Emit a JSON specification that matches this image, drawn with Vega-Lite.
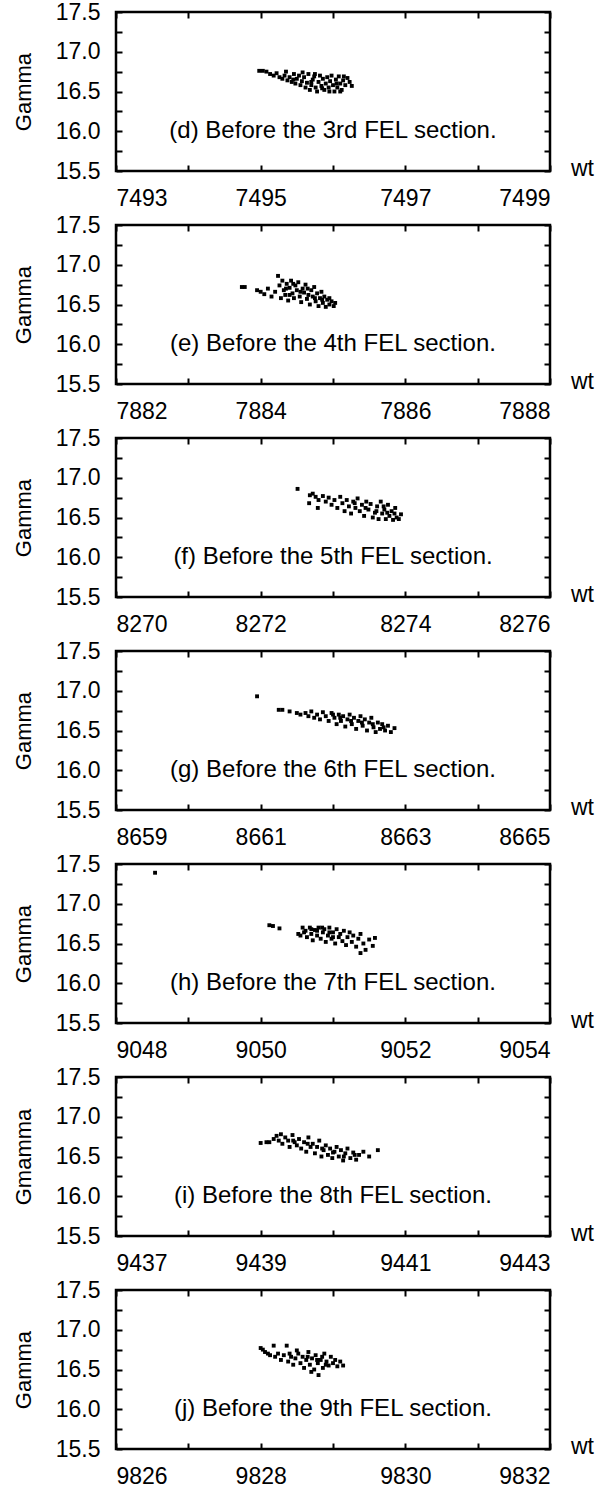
{
"$schema": "https://vega.github.io/schema/vega-lite/v6.json",
"background": "white",
"padding": {"left": 10, "top": -1, "right": 5, "bottom": 0},
"spacing": 0,
"config": {
  "view": {"stroke": "black", "strokeWidth": 2.5},
  "axis": {"domain": false, "grid": false, "tickColor": "black", "tickWidth": 2, "tickSize": -6,
    "labelFont": "Liberation Sans", "labelFontSize": 23, "labelColor": "black",
    "titleFont": "Liberation Sans", "titleFontSize": 22, "titleFontWeight": "normal", "titleColor": "black"},
  "text": {"font": "Liberation Sans", "fontSize": 24, "color": "black"}
},
"datasets": {
  "notes": [
    {"p": "d", "wt": 7496, "gamma": 16.0, "label": "(d) Before the 3rd FEL section."},
    {"p": "e", "wt": 7885, "gamma": 16.0, "label": "(e) Before the 4th FEL section."},
    {"p": "f", "wt": 8273, "gamma": 16.0, "label": "(f) Before the 5th FEL section."},
    {"p": "g", "wt": 8662, "gamma": 16.0, "label": "(g) Before the 6th FEL section."},
    {"p": "h", "wt": 9051, "gamma": 16.0, "label": "(h) Before the 7th FEL section."},
    {"p": "i", "wt": 9440, "gamma": 16.0, "label": "(i) Before the 8th FEL section."},
    {"p": "j", "wt": 9829, "gamma": 16.0, "label": "(j) Before the 9th FEL section."}
  ],
  "d": [
    {"wt":7494.98,"gamma":16.76},{"wt":7495.03,"gamma":16.76},{"wt":7495.08,"gamma":16.75},{"wt":7495.13,"gamma":16.72},{"wt":7495.18,"gamma":16.70},{"wt":7495.22,"gamma":16.73},{"wt":7495.26,"gamma":16.68},{"wt":7495.30,"gamma":16.66},{"wt":7495.33,"gamma":16.70},{"wt":7495.37,"gamma":16.64},{"wt":7495.40,"gamma":16.68},{"wt":7495.43,"gamma":16.62},{"wt":7495.46,"gamma":16.72},{"wt":7495.48,"gamma":16.60},{"wt":7495.50,"gamma":16.66},{"wt":7495.53,"gamma":16.70},{"wt":7495.55,"gamma":16.58},{"wt":7495.57,"gamma":16.63},{"wt":7495.60,"gamma":16.68},{"wt":7495.62,"gamma":16.55},{"wt":7495.64,"gamma":16.61},{"wt":7495.66,"gamma":16.72},{"wt":7495.68,"gamma":16.52},{"wt":7495.70,"gamma":16.58},{"wt":7495.72,"gamma":16.65},{"wt":7495.74,"gamma":16.69},{"wt":7495.76,"gamma":16.55},{"wt":7495.78,"gamma":16.50},{"wt":7495.80,"gamma":16.62},{"wt":7495.82,"gamma":16.70},{"wt":7495.84,"gamma":16.57},{"wt":7495.86,"gamma":16.66},{"wt":7495.88,"gamma":16.52},{"wt":7495.90,"gamma":16.60},{"wt":7495.92,"gamma":16.68},{"wt":7495.94,"gamma":16.55},{"wt":7495.96,"gamma":16.63},{"wt":7495.98,"gamma":16.70},{"wt":7496.00,"gamma":16.58},{"wt":7496.02,"gamma":16.50},{"wt":7496.04,"gamma":16.65},{"wt":7496.06,"gamma":16.55},{"wt":7496.08,"gamma":16.69},{"wt":7496.10,"gamma":16.60},{"wt":7496.12,"gamma":16.52},{"wt":7496.14,"gamma":16.64},{"wt":7496.17,"gamma":16.58},{"wt":7496.20,"gamma":16.67},{"wt":7496.23,"gamma":16.62},{"wt":7496.26,"gamma":16.57},
    {"wt":7495.35,"gamma":16.75},{"wt":7495.58,"gamma":16.74},{"wt":7495.70,"gamma":16.62},{"wt":7495.85,"gamma":16.54},{"wt":7495.95,"gamma":16.50},{"wt":7496.05,"gamma":16.60},{"wt":7496.15,"gamma":16.69},{"wt":7495.75,"gamma":16.72},{"wt":7495.45,"gamma":16.65},{"wt":7496.10,"gamma":16.50}
  ],
  "e": [
    {"wt":7883.74,"gamma":16.72},{"wt":7883.78,"gamma":16.72},{"wt":7883.95,"gamma":16.68},{"wt":7884.00,"gamma":16.66},{"wt":7884.05,"gamma":16.63},{"wt":7884.10,"gamma":16.70},{"wt":7884.15,"gamma":16.60},{"wt":7884.20,"gamma":16.66},{"wt":7884.24,"gamma":16.86},{"wt":7884.26,"gamma":16.74},{"wt":7884.28,"gamma":16.58},{"wt":7884.30,"gamma":16.80},{"wt":7884.32,"gamma":16.68},{"wt":7884.34,"gamma":16.62},{"wt":7884.36,"gamma":16.76},{"wt":7884.38,"gamma":16.55},{"wt":7884.40,"gamma":16.71},{"wt":7884.42,"gamma":16.80},{"wt":7884.44,"gamma":16.64},{"wt":7884.46,"gamma":16.58},{"wt":7884.48,"gamma":16.74},{"wt":7884.50,"gamma":16.68},{"wt":7884.52,"gamma":16.78},{"wt":7884.54,"gamma":16.60},{"wt":7884.56,"gamma":16.53},{"wt":7884.58,"gamma":16.70},{"wt":7884.60,"gamma":16.65},{"wt":7884.62,"gamma":16.75},{"wt":7884.64,"gamma":16.57},{"wt":7884.66,"gamma":16.62},{"wt":7884.68,"gamma":16.50},{"wt":7884.70,"gamma":16.68},{"wt":7884.72,"gamma":16.60},{"wt":7884.74,"gamma":16.72},{"wt":7884.76,"gamma":16.54},{"wt":7884.78,"gamma":16.64},{"wt":7884.80,"gamma":16.48},{"wt":7884.82,"gamma":16.58},{"wt":7884.84,"gamma":16.66},{"wt":7884.86,"gamma":16.52},{"wt":7884.88,"gamma":16.60},{"wt":7884.90,"gamma":16.47},{"wt":7884.92,"gamma":16.56},{"wt":7884.95,"gamma":16.50},{"wt":7884.98,"gamma":16.54},{"wt":7885.01,"gamma":16.48},{"wt":7885.03,"gamma":16.52},
    {"wt":7884.35,"gamma":16.70},{"wt":7884.45,"gamma":16.76},{"wt":7884.55,"gamma":16.66},{"wt":7884.65,"gamma":16.70},{"wt":7884.75,"gamma":16.58},{"wt":7884.85,"gamma":16.56},{"wt":7884.95,"gamma":16.58},{"wt":7884.40,"gamma":16.62}
  ],
  "f": [
    {"wt":8272.51,"gamma":16.86},{"wt":8272.68,"gamma":16.78},{"wt":8272.72,"gamma":16.80},{"wt":8272.76,"gamma":16.76},{"wt":8272.67,"gamma":16.68},{"wt":8272.80,"gamma":16.72},{"wt":8272.79,"gamma":16.62},{"wt":8272.86,"gamma":16.77},{"wt":8272.90,"gamma":16.70},{"wt":8272.94,"gamma":16.75},{"wt":8272.98,"gamma":16.66},{"wt":8273.02,"gamma":16.72},{"wt":8273.06,"gamma":16.62},{"wt":8273.10,"gamma":16.76},{"wt":8273.13,"gamma":16.68},{"wt":8273.16,"gamma":16.58},{"wt":8273.19,"gamma":16.72},{"wt":8273.22,"gamma":16.64},{"wt":8273.25,"gamma":16.55},{"wt":8273.28,"gamma":16.70},{"wt":8273.31,"gamma":16.62},{"wt":8273.34,"gamma":16.74},{"wt":8273.37,"gamma":16.58},{"wt":8273.40,"gamma":16.66},{"wt":8273.43,"gamma":16.52},{"wt":8273.46,"gamma":16.70},{"wt":8273.49,"gamma":16.60},{"wt":8273.52,"gamma":16.67},{"wt":8273.55,"gamma":16.50},{"wt":8273.58,"gamma":16.56},{"wt":8273.61,"gamma":16.64},{"wt":8273.63,"gamma":16.48},{"wt":8273.66,"gamma":16.70},{"wt":8273.68,"gamma":16.55},{"wt":8273.71,"gamma":16.60},{"wt":8273.73,"gamma":16.48},{"wt":8273.76,"gamma":16.66},{"wt":8273.78,"gamma":16.52},{"wt":8273.81,"gamma":16.58},{"wt":8273.83,"gamma":16.47},{"wt":8273.86,"gamma":16.62},{"wt":8273.88,"gamma":16.50},{"wt":8273.91,"gamma":16.48},{"wt":8273.94,"gamma":16.54},
    {"wt":8273.30,"gamma":16.68},{"wt":8273.45,"gamma":16.62},{"wt":8273.60,"gamma":16.58},{"wt":8273.75,"gamma":16.56},{"wt":8273.85,"gamma":16.55},{"wt":8273.70,"gamma":16.64}
  ],
  "g": [
    {"wt":8660.95,"gamma":16.93},{"wt":8661.25,"gamma":16.76},{"wt":8661.30,"gamma":16.76},{"wt":8661.40,"gamma":16.74},{"wt":8661.50,"gamma":16.72},{"wt":8661.55,"gamma":16.70},{"wt":8661.62,"gamma":16.72},{"wt":8661.66,"gamma":16.68},{"wt":8661.70,"gamma":16.74},{"wt":8661.74,"gamma":16.66},{"wt":8661.78,"gamma":16.70},{"wt":8661.82,"gamma":16.64},{"wt":8661.86,"gamma":16.73},{"wt":8661.90,"gamma":16.68},{"wt":8661.94,"gamma":16.62},{"wt":8661.98,"gamma":16.72},{"wt":8662.02,"gamma":16.66},{"wt":8662.05,"gamma":16.58},{"wt":8662.08,"gamma":16.70},{"wt":8662.11,"gamma":16.62},{"wt":8662.14,"gamma":16.68},{"wt":8662.17,"gamma":16.55},{"wt":8662.20,"gamma":16.64},{"wt":8662.23,"gamma":16.70},{"wt":8662.26,"gamma":16.58},{"wt":8662.29,"gamma":16.66},{"wt":8662.32,"gamma":16.52},{"wt":8662.35,"gamma":16.62},{"wt":8662.38,"gamma":16.68},{"wt":8662.41,"gamma":16.56},{"wt":8662.44,"gamma":16.64},{"wt":8662.47,"gamma":16.50},{"wt":8662.50,"gamma":16.60},{"wt":8662.53,"gamma":16.66},{"wt":8662.56,"gamma":16.54},{"wt":8662.59,"gamma":16.48},{"wt":8662.62,"gamma":16.60},{"wt":8662.65,"gamma":16.52},{"wt":8662.68,"gamma":16.58},{"wt":8662.72,"gamma":16.50},{"wt":8662.76,"gamma":16.56},{"wt":8662.80,"gamma":16.48},{"wt":8662.85,"gamma":16.53},
    {"wt":8662.10,"gamma":16.66},{"wt":8662.25,"gamma":16.62},{"wt":8662.40,"gamma":16.60},{"wt":8662.55,"gamma":16.58},{"wt":8662.70,"gamma":16.54},{"wt":8662.00,"gamma":16.70}
  ],
  "h": [
    {"wt":9048.54,"gamma":17.39},{"wt":9050.12,"gamma":16.73},{"wt":9050.17,"gamma":16.72},{"wt":9050.26,"gamma":16.69},{"wt":9050.52,"gamma":16.62},{"wt":9050.55,"gamma":16.60},{"wt":9050.58,"gamma":16.70},{"wt":9050.62,"gamma":16.66},{"wt":9050.64,"gamma":16.58},{"wt":9050.68,"gamma":16.70},{"wt":9050.70,"gamma":16.62},{"wt":9050.72,"gamma":16.54},{"wt":9050.75,"gamma":16.67},{"wt":9050.78,"gamma":16.60},{"wt":9050.80,"gamma":16.70},{"wt":9050.83,"gamma":16.56},{"wt":9050.86,"gamma":16.64},{"wt":9050.88,"gamma":16.68},{"wt":9050.90,"gamma":16.52},{"wt":9050.93,"gamma":16.60},{"wt":9050.95,"gamma":16.70},{"wt":9050.98,"gamma":16.56},{"wt":9051.00,"gamma":16.64},{"wt":9051.03,"gamma":16.50},{"wt":9051.05,"gamma":16.68},{"wt":9051.08,"gamma":16.58},{"wt":9051.10,"gamma":16.62},{"wt":9051.13,"gamma":16.53},{"wt":9051.15,"gamma":16.66},{"wt":9051.18,"gamma":16.48},{"wt":9051.20,"gamma":16.58},{"wt":9051.23,"gamma":16.64},{"wt":9051.26,"gamma":16.52},{"wt":9051.28,"gamma":16.60},{"wt":9051.32,"gamma":16.46},{"wt":9051.35,"gamma":16.56},{"wt":9051.38,"gamma":16.62},{"wt":9051.42,"gamma":16.50},{"wt":9051.45,"gamma":16.42},{"wt":9051.50,"gamma":16.55},{"wt":9051.55,"gamma":16.47},{"wt":9051.38,"gamma":16.38},{"wt":9051.58,"gamma":16.57},
    {"wt":9050.70,"gamma":16.68},{"wt":9050.85,"gamma":16.70},{"wt":9051.00,"gamma":16.58},{"wt":9050.95,"gamma":16.64},{"wt":9050.60,"gamma":16.64},{"wt":9050.78,"gamma":16.66}
  ],
  "i": [
    {"wt":9439.00,"gamma":16.67},{"wt":9439.08,"gamma":16.68},{"wt":9439.12,"gamma":16.68},{"wt":9439.18,"gamma":16.72},{"wt":9439.22,"gamma":16.76},{"wt":9439.25,"gamma":16.70},{"wt":9439.28,"gamma":16.78},{"wt":9439.30,"gamma":16.66},{"wt":9439.34,"gamma":16.74},{"wt":9439.38,"gamma":16.70},{"wt":9439.40,"gamma":16.62},{"wt":9439.44,"gamma":16.77},{"wt":9439.47,"gamma":16.68},{"wt":9439.50,"gamma":16.64},{"wt":9439.53,"gamma":16.72},{"wt":9439.56,"gamma":16.60},{"wt":9439.60,"gamma":16.68},{"wt":9439.63,"gamma":16.56},{"wt":9439.66,"gamma":16.74},{"wt":9439.69,"gamma":16.62},{"wt":9439.72,"gamma":16.66},{"wt":9439.75,"gamma":16.54},{"wt":9439.78,"gamma":16.62},{"wt":9439.81,"gamma":16.70},{"wt":9439.84,"gamma":16.50},{"wt":9439.87,"gamma":16.58},{"wt":9439.90,"gamma":16.64},{"wt":9439.93,"gamma":16.52},{"wt":9439.96,"gamma":16.60},{"wt":9439.99,"gamma":16.48},{"wt":9440.02,"gamma":16.56},{"wt":9440.05,"gamma":16.62},{"wt":9440.08,"gamma":16.50},{"wt":9440.11,"gamma":16.58},{"wt":9440.14,"gamma":16.45},{"wt":9440.17,"gamma":16.54},{"wt":9440.20,"gamma":16.60},{"wt":9440.24,"gamma":16.48},{"wt":9440.28,"gamma":16.55},{"wt":9440.32,"gamma":16.46},{"wt":9440.36,"gamma":16.52},{"wt":9440.42,"gamma":16.56},{"wt":9440.50,"gamma":16.50},{"wt":9440.62,"gamma":16.58},
    {"wt":9439.45,"gamma":16.70},{"wt":9439.65,"gamma":16.66},{"wt":9439.85,"gamma":16.60},{"wt":9440.00,"gamma":16.55},{"wt":9440.15,"gamma":16.50},{"wt":9440.30,"gamma":16.52}
  ],
  "j": [
    {"wt":9828.00,"gamma":16.77},{"wt":9828.03,"gamma":16.75},{"wt":9828.06,"gamma":16.72},{"wt":9828.10,"gamma":16.70},{"wt":9828.13,"gamma":16.68},{"wt":9828.18,"gamma":16.80},{"wt":9828.20,"gamma":16.66},{"wt":9828.24,"gamma":16.70},{"wt":9828.28,"gamma":16.62},{"wt":9828.32,"gamma":16.68},{"wt":9828.36,"gamma":16.80},{"wt":9828.38,"gamma":16.60},{"wt":9828.42,"gamma":16.66},{"wt":9828.45,"gamma":16.56},{"wt":9828.48,"gamma":16.64},{"wt":9828.52,"gamma":16.70},{"wt":9828.55,"gamma":16.58},{"wt":9828.58,"gamma":16.66},{"wt":9828.60,"gamma":16.52},{"wt":9828.63,"gamma":16.62},{"wt":9828.66,"gamma":16.72},{"wt":9828.68,"gamma":16.56},{"wt":9828.71,"gamma":16.64},{"wt":9828.74,"gamma":16.50},{"wt":9828.76,"gamma":16.68},{"wt":9828.79,"gamma":16.58},{"wt":9828.80,"gamma":16.43},{"wt":9828.83,"gamma":16.62},{"wt":9828.86,"gamma":16.52},{"wt":9828.88,"gamma":16.70},{"wt":9828.91,"gamma":16.60},{"wt":9828.94,"gamma":16.55},{"wt":9828.97,"gamma":16.66},{"wt":9829.00,"gamma":16.58},{"wt":9829.03,"gamma":16.62},{"wt":9829.06,"gamma":16.54},{"wt":9829.10,"gamma":16.60},{"wt":9829.14,"gamma":16.55},{"wt":9828.70,"gamma":16.47},{"wt":9828.50,"gamma":16.74},
    {"wt":9828.65,"gamma":16.66},{"wt":9828.78,"gamma":16.62},{"wt":9828.90,"gamma":16.56},{"wt":9828.85,"gamma":16.66},{"wt":9828.40,"gamma":16.70}
  ]
},
"vconcat": [
  {"width": 434, "height": 159, "resolve": {"axis": {"x": "independent", "y": "independent"}},
   "layer": [
    {"data": {"name": "d"}, "mark": {"type": "square", "size": 15, "color": "black", "opacity": 1},
     "encoding": {
      "x": {"field": "wt", "type": "quantitative", "scale": {"domain": [7493, 7499], "nice": false, "zero": false},
        "axis": {"orient": "bottom", "values": [7493,7494,7495,7496,7497,7498,7499], "format": "d", "labelExpr": "(datum.value - 7493) % 2 == 0 ? datum.label : ''", "labelPadding": 22, "title": "wt", "titleX": 466, "titleY": -3, "titleAlign": "center", "titleBaseline": "middle", "titleAnchor": null, "titleFontSize": 23}},
      "y": {"field": "gamma", "type": "quantitative", "scale": {"domain": [15.5, 17.5], "nice": false, "zero": false},
        "axis": {"orient": "left", "values": [15.5,15.75,16,16.25,16.5,16.75,17,17.25,17.5], "format": ".1f", "labelExpr": "abs(datum.value*2 - round(datum.value*2)) < 0.01 ? datum.label : ''", "labelPadding": 22, "title": "Gamma", "titlePadding": 20}}}},
    {"data": {"name": "notes"}, "transform": [{"filter": "datum.p == 'd'"}], "mark": {"type": "text"},
     "encoding": {
      "x": {"field": "wt", "type": "quantitative", "axis": {"orient": "top", "values": [7493,7494,7495,7496,7497,7498,7499], "labels": false, "title": null}},
      "y": {"field": "gamma", "type": "quantitative", "axis": {"orient": "right", "values": [15.5,15.75,16,16.25,16.5,16.75,17,17.25,17.5], "labels": false, "title": null}},
      "text": {"field": "label"}}}
   ]},
  {"width": 434, "height": 159, "resolve": {"axis": {"x": "independent", "y": "independent"}},
   "layer": [
    {"data": {"name": "e"}, "mark": {"type": "square", "size": 15, "color": "black", "opacity": 1},
     "encoding": {
      "x": {"field": "wt", "type": "quantitative", "scale": {"domain": [7882, 7888], "nice": false, "zero": false},
        "axis": {"orient": "bottom", "values": [7882,7883,7884,7885,7886,7887,7888], "format": "d", "labelExpr": "(datum.value - 7882) % 2 == 0 ? datum.label : ''", "labelPadding": 22, "title": "wt", "titleX": 466, "titleY": -3, "titleAlign": "center", "titleBaseline": "middle", "titleAnchor": null, "titleFontSize": 23}},
      "y": {"field": "gamma", "type": "quantitative", "scale": {"domain": [15.5, 17.5], "nice": false, "zero": false},
        "axis": {"orient": "left", "values": [15.5,15.75,16,16.25,16.5,16.75,17,17.25,17.5], "format": ".1f", "labelExpr": "abs(datum.value*2 - round(datum.value*2)) < 0.01 ? datum.label : ''", "labelPadding": 22, "title": "Gamma", "titlePadding": 20}}}},
    {"data": {"name": "notes"}, "transform": [{"filter": "datum.p == 'e'"}], "mark": {"type": "text"},
     "encoding": {
      "x": {"field": "wt", "type": "quantitative", "axis": {"orient": "top", "values": [7882,7883,7884,7885,7886,7887,7888], "labels": false, "title": null}},
      "y": {"field": "gamma", "type": "quantitative", "axis": {"orient": "right", "values": [15.5,15.75,16,16.25,16.5,16.75,17,17.25,17.5], "labels": false, "title": null}},
      "text": {"field": "label"}}}
   ]},
  {"width": 434, "height": 159, "resolve": {"axis": {"x": "independent", "y": "independent"}},
   "layer": [
    {"data": {"name": "f"}, "mark": {"type": "square", "size": 15, "color": "black", "opacity": 1},
     "encoding": {
      "x": {"field": "wt", "type": "quantitative", "scale": {"domain": [8270, 8276], "nice": false, "zero": false},
        "axis": {"orient": "bottom", "values": [8270,8271,8272,8273,8274,8275,8276], "format": "d", "labelExpr": "(datum.value - 8270) % 2 == 0 ? datum.label : ''", "labelPadding": 22, "title": "wt", "titleX": 466, "titleY": -3, "titleAlign": "center", "titleBaseline": "middle", "titleAnchor": null, "titleFontSize": 23}},
      "y": {"field": "gamma", "type": "quantitative", "scale": {"domain": [15.5, 17.5], "nice": false, "zero": false},
        "axis": {"orient": "left", "values": [15.5,15.75,16,16.25,16.5,16.75,17,17.25,17.5], "format": ".1f", "labelExpr": "abs(datum.value*2 - round(datum.value*2)) < 0.01 ? datum.label : ''", "labelPadding": 22, "title": "Gamma", "titlePadding": 20}}}},
    {"data": {"name": "notes"}, "transform": [{"filter": "datum.p == 'f'"}], "mark": {"type": "text"},
     "encoding": {
      "x": {"field": "wt", "type": "quantitative", "axis": {"orient": "top", "values": [8270,8271,8272,8273,8274,8275,8276], "labels": false, "title": null}},
      "y": {"field": "gamma", "type": "quantitative", "axis": {"orient": "right", "values": [15.5,15.75,16,16.25,16.5,16.75,17,17.25,17.5], "labels": false, "title": null}},
      "text": {"field": "label"}}}
   ]},
  {"width": 434, "height": 159, "resolve": {"axis": {"x": "independent", "y": "independent"}},
   "layer": [
    {"data": {"name": "g"}, "mark": {"type": "square", "size": 15, "color": "black", "opacity": 1},
     "encoding": {
      "x": {"field": "wt", "type": "quantitative", "scale": {"domain": [8659, 8665], "nice": false, "zero": false},
        "axis": {"orient": "bottom", "values": [8659,8660,8661,8662,8663,8664,8665], "format": "d", "labelExpr": "(datum.value - 8659) % 2 == 0 ? datum.label : ''", "labelPadding": 22, "title": "wt", "titleX": 466, "titleY": -3, "titleAlign": "center", "titleBaseline": "middle", "titleAnchor": null, "titleFontSize": 23}},
      "y": {"field": "gamma", "type": "quantitative", "scale": {"domain": [15.5, 17.5], "nice": false, "zero": false},
        "axis": {"orient": "left", "values": [15.5,15.75,16,16.25,16.5,16.75,17,17.25,17.5], "format": ".1f", "labelExpr": "abs(datum.value*2 - round(datum.value*2)) < 0.01 ? datum.label : ''", "labelPadding": 22, "title": "Gamma", "titlePadding": 20}}}},
    {"data": {"name": "notes"}, "transform": [{"filter": "datum.p == 'g'"}], "mark": {"type": "text"},
     "encoding": {
      "x": {"field": "wt", "type": "quantitative", "axis": {"orient": "top", "values": [8659,8660,8661,8662,8663,8664,8665], "labels": false, "title": null}},
      "y": {"field": "gamma", "type": "quantitative", "axis": {"orient": "right", "values": [15.5,15.75,16,16.25,16.5,16.75,17,17.25,17.5], "labels": false, "title": null}},
      "text": {"field": "label"}}}
   ]},
  {"width": 434, "height": 159, "resolve": {"axis": {"x": "independent", "y": "independent"}},
   "layer": [
    {"data": {"name": "h"}, "mark": {"type": "square", "size": 15, "color": "black", "opacity": 1},
     "encoding": {
      "x": {"field": "wt", "type": "quantitative", "scale": {"domain": [9048, 9054], "nice": false, "zero": false},
        "axis": {"orient": "bottom", "values": [9048,9049,9050,9051,9052,9053,9054], "format": "d", "labelExpr": "(datum.value - 9048) % 2 == 0 ? datum.label : ''", "labelPadding": 22, "title": "wt", "titleX": 466, "titleY": -3, "titleAlign": "center", "titleBaseline": "middle", "titleAnchor": null, "titleFontSize": 23}},
      "y": {"field": "gamma", "type": "quantitative", "scale": {"domain": [15.5, 17.5], "nice": false, "zero": false},
        "axis": {"orient": "left", "values": [15.5,15.75,16,16.25,16.5,16.75,17,17.25,17.5], "format": ".1f", "labelExpr": "abs(datum.value*2 - round(datum.value*2)) < 0.01 ? datum.label : ''", "labelPadding": 22, "title": "Gamma", "titlePadding": 20}}}},
    {"data": {"name": "notes"}, "transform": [{"filter": "datum.p == 'h'"}], "mark": {"type": "text"},
     "encoding": {
      "x": {"field": "wt", "type": "quantitative", "axis": {"orient": "top", "values": [9048,9049,9050,9051,9052,9053,9054], "labels": false, "title": null}},
      "y": {"field": "gamma", "type": "quantitative", "axis": {"orient": "right", "values": [15.5,15.75,16,16.25,16.5,16.75,17,17.25,17.5], "labels": false, "title": null}},
      "text": {"field": "label"}}}
   ]},
  {"width": 434, "height": 159, "resolve": {"axis": {"x": "independent", "y": "independent"}},
   "layer": [
    {"data": {"name": "i"}, "mark": {"type": "square", "size": 15, "color": "black", "opacity": 1},
     "encoding": {
      "x": {"field": "wt", "type": "quantitative", "scale": {"domain": [9437, 9443], "nice": false, "zero": false},
        "axis": {"orient": "bottom", "values": [9437,9438,9439,9440,9441,9442,9443], "format": "d", "labelExpr": "(datum.value - 9437) % 2 == 0 ? datum.label : ''", "labelPadding": 22, "title": "wt", "titleX": 466, "titleY": -3, "titleAlign": "center", "titleBaseline": "middle", "titleAnchor": null, "titleFontSize": 23}},
      "y": {"field": "gamma", "type": "quantitative", "scale": {"domain": [15.5, 17.5], "nice": false, "zero": false},
        "axis": {"orient": "left", "values": [15.5,15.75,16,16.25,16.5,16.75,17,17.25,17.5], "format": ".1f", "labelExpr": "abs(datum.value*2 - round(datum.value*2)) < 0.01 ? datum.label : ''", "labelPadding": 22, "title": "Gmamma", "titlePadding": 20}}}},
    {"data": {"name": "notes"}, "transform": [{"filter": "datum.p == 'i'"}], "mark": {"type": "text"},
     "encoding": {
      "x": {"field": "wt", "type": "quantitative", "axis": {"orient": "top", "values": [9437,9438,9439,9440,9441,9442,9443], "labels": false, "title": null}},
      "y": {"field": "gamma", "type": "quantitative", "axis": {"orient": "right", "values": [15.5,15.75,16,16.25,16.5,16.75,17,17.25,17.5], "labels": false, "title": null}},
      "text": {"field": "label"}}}
   ]},
  {"width": 434, "height": 159, "resolve": {"axis": {"x": "independent", "y": "independent"}},
   "layer": [
    {"data": {"name": "j"}, "mark": {"type": "square", "size": 15, "color": "black", "opacity": 1},
     "encoding": {
      "x": {"field": "wt", "type": "quantitative", "scale": {"domain": [9826, 9832], "nice": false, "zero": false},
        "axis": {"orient": "bottom", "values": [9826,9827,9828,9829,9830,9831,9832], "format": "d", "labelExpr": "(datum.value - 9826) % 2 == 0 ? datum.label : ''", "labelPadding": 22, "title": "wt", "titleX": 466, "titleY": -3, "titleAlign": "center", "titleBaseline": "middle", "titleAnchor": null, "titleFontSize": 23}},
      "y": {"field": "gamma", "type": "quantitative", "scale": {"domain": [15.5, 17.5], "nice": false, "zero": false},
        "axis": {"orient": "left", "values": [15.5,15.75,16,16.25,16.5,16.75,17,17.25,17.5], "format": ".1f", "labelExpr": "abs(datum.value*2 - round(datum.value*2)) < 0.01 ? datum.label : ''", "labelPadding": 22, "title": "Gamma", "titlePadding": 20}}}},
    {"data": {"name": "notes"}, "transform": [{"filter": "datum.p == 'j'"}], "mark": {"type": "text"},
     "encoding": {
      "x": {"field": "wt", "type": "quantitative", "axis": {"orient": "top", "values": [9826,9827,9828,9829,9830,9831,9832], "labels": false, "title": null}},
      "y": {"field": "gamma", "type": "quantitative", "axis": {"orient": "right", "values": [15.5,15.75,16,16.25,16.5,16.75,17,17.25,17.5], "labels": false, "title": null}},
      "text": {"field": "label"}}}
   ]}
]
}
